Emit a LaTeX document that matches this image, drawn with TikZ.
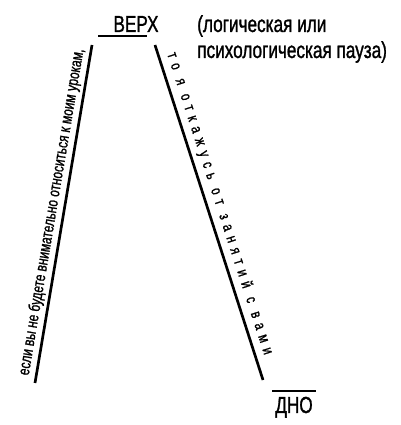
\documentclass[tikz,border=0pt]{standalone}
\usepackage{fontspec}
\setmainfont[FakeStretch=0.74,FakeBold=1.2]{Liberation Sans}
\usepackage{tikz}
\usetikzlibrary{positioning}
\newcommand\widetrack{\addfontfeature{LetterSpace=38}\spaceskip=7pt\relax}
\tikzset{
  word/.style={inner sep=0pt, font=\fontsize{16.5}{18.5}\selectfont},
  side/.style={inner sep=2pt, font=\fontsize{11.5}{13}\selectfont},
  spaced/.style={inner sep=3pt, font=\fontsize{11}{12}\selectfont\widetrack},
  rule/.style={line width=1.9pt}
}
\begin{document}
\begin{tikzpicture}[x=0.025cm,y=0.025cm]
\useasboundingbox (0,0) rectangle (400,425);
% top and bottom
\coordinate (topL) at (98,389);
\coordinate (topR) at (147,389);
\coordinate (botL) at (272,34);
\coordinate (botR) at (316,34);
\path[draw][rule] (topL) -- (topR);
\path[draw][rule] (botL) -- (botR);
\path (136,393) node[word, anchor=base] (verh) {ВЕРХ};
\path (294,12) node[word, anchor=base] (dno) {ДНО};
\path (197,367) node[word, anchor=base west, align=left] (pause) {(логическая или\\психологическая пауза)};
% the two slopes
\coordinate (lTop) at (92,380);
\coordinate (lBot) at (35,42);
\coordinate (rTop) at (155,380);
\coordinate (rBot) at (263,45);
\path[draw][rule] (lBot) -- node[side, sloped, above, pos=0.5] (ifText) {если вы не будете внимательно относиться к моим урокам,} (lTop);
\path[draw][rule] (rTop) -- node[spaced, sloped, above, pos=0.485] (thenText) {то я откажусь от занятий с вами} (rBot);
\end{tikzpicture}
\end{document}
